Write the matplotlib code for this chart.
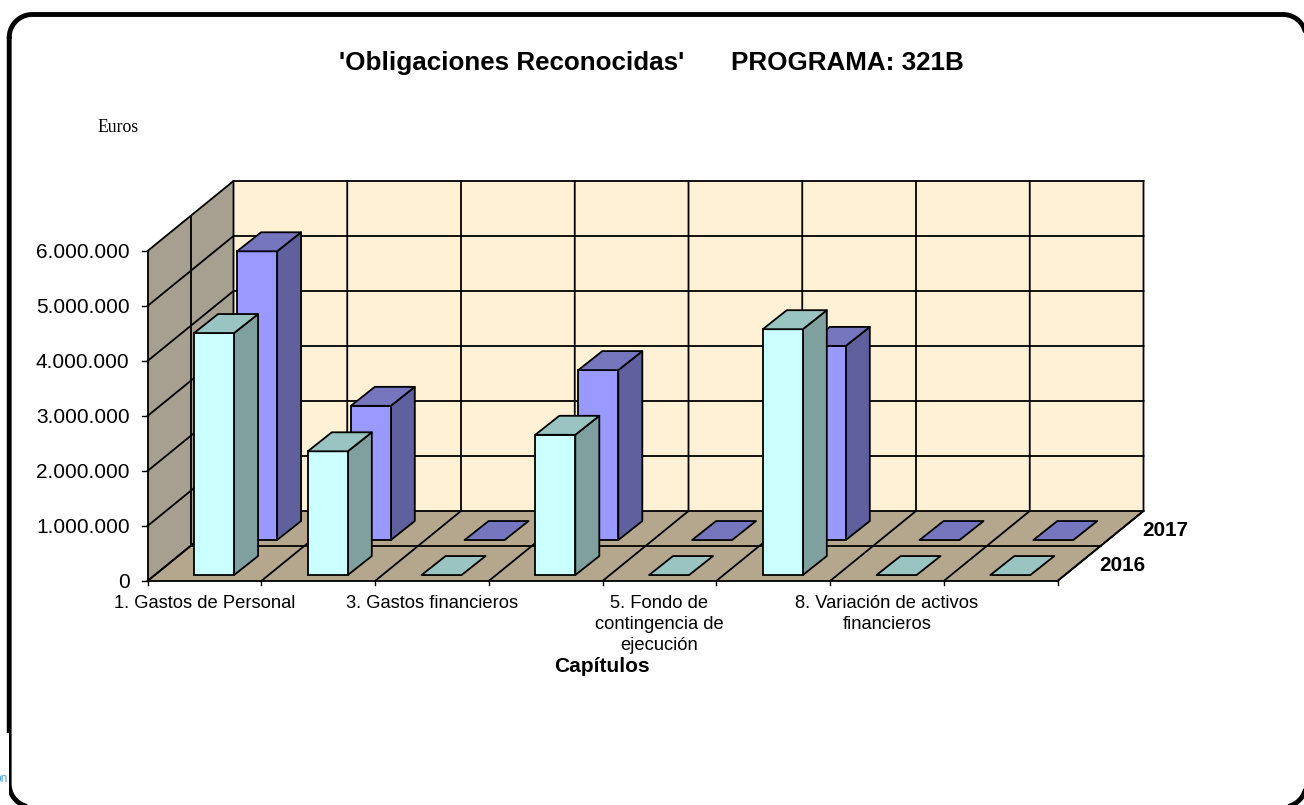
import matplotlib
matplotlib.use('Agg')
import matplotlib.pyplot as plt
import numpy as np
from matplotlib.patches import Polygon, Rectangle

plt.rcParams['font.family'] = ['Liberation Sans', 'DejaVu Sans']

categories = ['1. Gastos de Personal', '', '3. Gastos financieros', '',
              '5. Fondo de\ncontingencia de\nejecución', '',
              '8. Variación de activos\nfinancieros', '']
values_2016 = [4400000, 2250000, 0, 2550000, 0, 4470000, 0, 0]
values_2017 = [5250000, 2440000, 0, 3090000, 0, 3530000, 0, 0]
series_names = ['2016', '2017']
yticks = [0, 1000000, 2000000, 3000000, 4000000, 5000000, 6000000]
ytick_labels = ['0', '1.000.000', '2.000.000', '3.000.000', '4.000.000', '5.000.000', '6.000.000']

# oblique projection, pixels of the picture
X0, Y0 = 147.5, 581.0
CAT_W = 113.75
PX_PER_EURO = 55.0 / 1000000
DEPTH_X, DEPTH_Y = 43.0, -35.0
BAR_DX, BAR_DY = 24.0, -19.0
BAR_W = 40
YMAX = 6000000

def project(cat, value, depth):
    x = X0 + cat * CAT_W + depth * DEPTH_X
    y = Y0 - value * PX_PER_EURO + depth * DEPTH_Y
    return x, y

def draw_bar(ax, cat, value, depth, front, side, top):
    x0, y0 = project(cat + 0.345, 0, depth + 0.17)
    x1 = x0 + BAR_W
    y1 = y0 - value * PX_PER_EURO
    if value > 0:
        ax.add_patch(Polygon([(x1, y0), (x1 + BAR_DX, y0 + BAR_DY), (x1 + BAR_DX, y1 + BAR_DY), (x1, y1)],
                             fc=side, ec='black', lw=1.3, joinstyle='round', zorder=3))
        ax.add_patch(Rectangle((x0, y1), BAR_W, y0 - y1, fc=front, ec='black', lw=1.3, zorder=3))
    ax.add_patch(Polygon([(x0, y1), (x1, y1), (x1 + BAR_DX, y1 + BAR_DY), (x0 + BAR_DX, y1 + BAR_DY)],
                         fc=top, ec='black', lw=1.3, joinstyle='round', zorder=3))

def frame_outline(left, top, right, bottom, r):
    # corners as arcs, clockwise from the top left
    xs, ys = [], []
    centers = [(left + r, top + r, 180), (right - r, top + r, 270),
               (right - r, bottom - r, 0), (left + r, bottom - r, 90)]
    for cx, cy, start in centers:
        a = np.radians(np.linspace(start, start + 90, 20))
        xs.extend(cx + r * np.cos(a))
        ys.extend(cy + r * np.sin(a))
    xs.append(xs[0])
    ys.append(ys[0])
    return xs, ys

fig = plt.figure(figsize=(13.04, 8.05), dpi=100)
ax = fig.add_axes([0, 0, 1, 1])
ax.set_xlim(0, 1304)
ax.set_ylim(805, 0)
ax.axis('off')

ncat = len(categories)
grid_lw = 1.3

# walls and floor
ax.add_patch(Polygon([project(0, 0, 2), project(ncat, 0, 2), project(ncat, YMAX, 2), project(0, YMAX, 2)],
                     fc='#FEF1D6', ec='none'))
ax.add_patch(Polygon([project(0, 0, 0), project(0, 0, 2), project(0, YMAX, 2), project(0, YMAX, 0)],
                     fc='#A79F8F', ec='none'))
ax.add_patch(Polygon([project(0, 0, 0), project(ncat, 0, 0), project(ncat, 0, 2), project(0, 0, 2)],
                     fc='#B4A78E', ec='none'))

# grid on back and side wall
for v, label in zip(yticks, ytick_labels):
    pts = [project(0, v, 0), project(0, v, 2), project(ncat, v, 2)]
    ax.plot(*zip(*pts), color='black', lw=grid_lw, solid_joinstyle='miter')
    x, y = project(0, v, 0)
    ax.plot([x - 6, x], [y, y], color='black', lw=1.0)
    ax.text(x - 18, y + 1, label, ha='right', va='center', fontsize=15)
for i in range(ncat + 1):
    pts = [project(i, 0, 0), project(i, 0, 2), project(i, YMAX, 2)]
    ax.plot(*zip(*pts), color='black', lw=grid_lw)
    x, y = project(i, 0, 0)
    ax.plot([x, x], [y, y + 4], color='black', lw=1.0)
ax.plot(*zip(project(0, 0, 1), project(0, YMAX, 1)), color='black', lw=grid_lw)
ax.plot(*zip(project(0, 0, 1), project(ncat, 0, 1)), color='black', lw=grid_lw)
ax.plot(*zip(project(0, 0, 0), project(0, YMAX, 0)), color='black', lw=grid_lw)
ax.plot(*zip(project(0, 0, 0), project(ncat, 0, 0)), color='black', lw=grid_lw)
ax.plot(*zip(project(ncat, 0, 0), project(ncat, 0, 2)), color='black', lw=grid_lw)

# back series first so the front one covers it
for i, v in enumerate(values_2017):
    draw_bar(ax, i, v, 1, '#9999FF', '#60609E', '#7676BE')
for i, v in enumerate(values_2016):
    draw_bar(ax, i, v, 0, '#CCFFFF', '#80A09F', '#99C4C1')

# text
for i, label in enumerate(categories):
    x, y = project(i + 0.5, 0, 0)
    for j, line in enumerate(label.split('\n')):
        ax.text(x, y + 22 + j * 21, line, ha='center', va='center', fontsize=13.2)
for d, name in enumerate(series_names):
    x, y = project(ncat, 0, d)
    ax.text(x + 42, y - 16, name, ha='left', va='center', fontsize=14.9, fontweight='bold')
ax.text(602, 666, 'Capítulos', ha='center', va='center', fontsize=15, fontweight='bold')
ax.text(97, 127, 'Euros', ha='left', va='center', fontsize=12.7, family='Liberation Serif')
ax.text(339, 63, "'Obligaciones Reconocidas'", ha='left', va='center', fontsize=18.7, fontweight='bold')
ax.text(731, 63, 'PROGRAMA: 321B', ha='left', va='center', fontsize=18.7, fontweight='bold')

# rounded frame, runs past the right and bottom edge
fx, fy = frame_outline(9.2, 14.5, 1306, 807, 23)
ax.plot(fx, fy, color='black', lw=3.5, zorder=4, solid_capstyle='round')
ax.add_patch(Rectangle((0, 733), 8.7, 72, fc='white', ec='none', zorder=5))
ax.text(7.5, 779, 'on', ha='right', va='center', fontsize=8.6, color='#45A5E0', zorder=6)

fig.savefig('out.png', dpi=100)
